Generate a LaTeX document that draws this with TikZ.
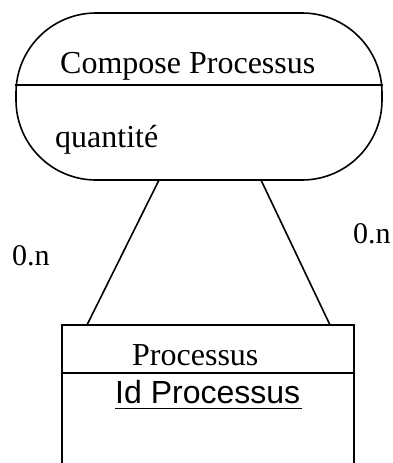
\documentclass[tikz,border=0pt]{standalone}
\usepackage{fontspec}
\setmainfont{Liberation Serif}
\setsansfont{Liberation Sans}
\begin{document}
\begin{tikzpicture}[x=1pt,y=-1pt,
  edge/.style={line width=1.6pt},
  serif/.style={font=\fontsize{32}{36}\selectfont, anchor=base west, inner sep=0pt},
  card/.style={font=\fontsize{30}{34}\selectfont, anchor=base west, inner sep=0pt}]
  \useasboundingbox (0,0) rectangle (393,463);
  % association: rounded box with a name and an attribute
  \node[draw, edge, rounded corners=80pt, minimum width=366pt, minimum height=167pt, inner sep=0pt]
    (assoc) at (199,96.5) {};
  \draw[edge] (assoc.west |- 0,85) -- (assoc.east |- 0,85);
  \node[serif] (aname) at (60,73) {Compose Processus};
  \node[serif] (aattr) at (55,147) {quantité};
  % entity: open-bottomed box
  \coordinate (ptl) at (62,325);
  \coordinate (ptr) at (354,325);
  \coordinate (pbl) at (62,463);
  \coordinate (pbr) at (354,463);
  \draw[edge] (pbl) -- (ptl) -- (ptr) -- (pbr);
  \draw[edge] (62,373) -- (354,373);
  \node[serif] (ename) at (132,365) {Processus};
  \node[font=\sffamily\fontsize{32}{36}\selectfont, anchor=base west, inner sep=0pt] (ekey) at (115,403) {Id Processus};
  \draw[line width=1.4pt] (115,408.5) -- (302,408.5);
  % links between association and entity
  \coordinate (a1) at (159,180);
  \coordinate (a2) at (261,180);
  \coordinate (e1) at (87,325);
  \coordinate (e2) at (330,325);
  \draw[edge] (a1) -- (e1);
  \draw[edge] (a2) -- (e2);
  % cardinalities
  \node[card] (c1) at (12,265) {0.n};
  \node[card] (c2) at (353,243) {0.n};
\end{tikzpicture}
\end{document}
